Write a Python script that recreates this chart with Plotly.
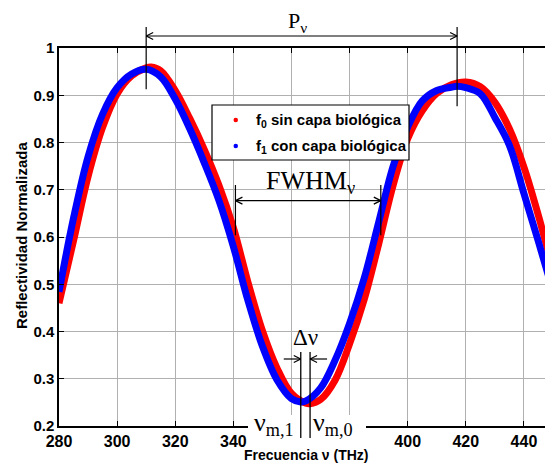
import plotly.graph_objects as go

# ---------------- data ----------------
freq_f0 = [280, 285, 290, 295, 300, 305, 310, 311.7, 315, 320, 325, 330, 335, 340, 345, 350,
           355, 360, 365, 366.4, 370, 375, 380, 385, 390, 395, 400, 405, 410, 415, 420, 425,
           430, 435, 440, 445, 450]
refl_f0 = [0.460, 0.592, 0.728, 0.832, 0.903, 0.941, 0.958, 0.960, 0.952, 0.910, 0.851, 0.785,
           0.710, 0.620, 0.505, 0.402, 0.323, 0.269, 0.248, 0.247, 0.256, 0.297, 0.374, 0.467,
           0.585, 0.710, 0.808, 0.867, 0.904, 0.922, 0.928, 0.918, 0.885, 0.829, 0.748, 0.645,
           0.530]

freq_f1 = [280, 285, 290, 295, 300, 305, 310, 315, 320, 325, 330, 335, 340, 345, 350, 355,
           360, 363.2, 365, 370, 375, 380, 385, 390, 395, 400, 405, 410, 415, 417, 420, 425,
           430, 435, 440, 445, 450]
refl_f1 = [0.484, 0.640, 0.770, 0.860, 0.916, 0.945, 0.955, 0.939, 0.892, 0.829, 0.757, 0.678,
           0.580, 0.466, 0.369, 0.298, 0.258, 0.251, 0.253, 0.280, 0.339, 0.417, 0.512, 0.631,
           0.750, 0.833, 0.888, 0.910, 0.917, 0.919, 0.916, 0.903, 0.853, 0.794, 0.692, 0.590,
           0.485]

x_ticks = [280, 300, 320, 340, 360, 380, 400, 420, 440]
x_tick_text = ["280", "300", "320", "340", "", "", "400", "420", "440"]  # 360/380 hidden in the reference
y_ticks = [0.2, 0.3, 0.4, 0.5, 0.6, 0.7, 0.8, 0.9, 1.0]
y_tick_text = ["0.2", "0.3", "0.4", "0.5", "0.6", "0.7", "0.8", "0.9", "1"]

legend_names = ["f<sub>0</sub> sin capa biológica", "f<sub>1</sub> con capa biológica"]
x_title = "Frecuencia ν (THz)"
y_title = "Reflectividad Normalizada"

# ---------------- layout geometry (screen pixels; page body has an 8px offset) ----------------
OFF = 8
SW, SH = 553, 465
PL, PR, PT, PB = 59, 553, 48, 426          # plot area in screen pixels
W, H = SW - OFF, SH - OFF
ML, MT = PL - OFF, PT - OFF
MR, MB = W - (PR - OFF), H - (PB - OFF)
X_RANGE = [280, 450]
Y_RANGE = [0.2, 1.0]
PW, PH = PR - PL, PB - PT

RED = "#ff0000"
BLUE = "#0000ff"
SANS = "Liberation Sans, Arial, sans-serif"
SERIF = "Liberation Serif, Times New Roman, serif"


def xpix(x):
    return PL + (x - X_RANGE[0]) / (X_RANGE[1] - X_RANGE[0]) * PW


def ypix(y):
    return PT + (Y_RANGE[1] - y) / (Y_RANGE[1] - Y_RANGE[0]) * PH


def pxp(p):  # screen pixel -> paper x
    return (p - PL) / PW


def pyp(p):  # screen pixel -> paper y
    return (PB - p) / PH


shapes = []
annotations = []


def seg(x0, y0, x1, y1, color="black", width=1.2):
    shapes.append(dict(type="line", xref="paper", yref="paper",
                       x0=pxp(x0), y0=pyp(y0), x1=pxp(x1), y1=pyp(y1),
                       line=dict(color=color, width=width), layer="above"))


def head(xt, yt, direction, size=7):
    # open chevron arrow head, tip at (xt, yt); direction +1 points right, -1 left
    seg(xt, yt, xt - direction * size, yt - size * 0.5)
    seg(xt, yt, xt - direction * size, yt + size * 0.5)


def text(x, y, s, size, family=SERIF, xanchor="center", yanchor="middle", color="black"):
    annotations.append(dict(xref="paper", yref="paper", x=pxp(x), y=pyp(y), text=s,
                            showarrow=False, xanchor=xanchor, yanchor=yanchor,
                            font=dict(family=family, size=size, color=color)))


def argmax_in(xs, ys, lo, hi):
    best = None
    for xv, yv in zip(xs, ys):
        if lo <= xv <= hi and (best is None or yv > best[1]):
            best = (xv, yv)
    return best


def argmin_in(xs, ys):
    i = min(range(len(ys)), key=lambda k: ys[k])
    return xs[i], ys[i]


def crossings(xs, ys, level, lo, hi):
    out = []
    for i in range(len(xs) - 1):
        if xs[i] < lo or xs[i + 1] > hi:
            continue
        a, b = ys[i] - level, ys[i + 1] - level
        if a == 0:
            out.append(xs[i])
        elif a * b < 0:
            out.append(xs[i] + (xs[i + 1] - xs[i]) * a / (a - b))
    return out


# ---------------- traces ----------------
fig = go.Figure()
fig.add_trace(go.Scatter(x=freq_f0, y=refl_f0, mode="lines",
                         line=dict(color=RED, width=7, shape="spline", smoothing=1.0),
                         showlegend=False, hoverinfo="skip"))
fig.add_trace(go.Scatter(x=freq_f1, y=refl_f1, mode="lines",
                         line=dict(color=BLUE, width=7, shape="spline", smoothing=1.0),
                         showlegend=False, hoverinfo="skip"))

# ---------------- P_nu annotation (between blue peaks) ----------------
p1 = argmax_in(freq_f1, refl_f1, 280, 360)
p2 = argmax_in(freq_f1, refl_f1, 380, 450)
ya = 36
xl, xr = xpix(p1[0]), xpix(p2[0])
seg(xl, 27, xl, ypix(p1[1]) + 20)
seg(xr, 27, xr, ypix(p2[1]) + 20)
seg(xl, ya, xr, ya)
head(xl, ya, -1)
head(xr, ya, +1)
text((xl + xr) / 2 - 4, 22, "P<sub>ν</sub>", 22)

# ---------------- FWHM annotation (red curve, half level) ----------------
lvl = (max(refl_f0) + min(refl_f0)) / 2
cr = crossings(freq_f0, refl_f0, lvl, 325, 405)
fl, fr = xpix(cr[0]), xpix(cr[1])
yf = ypix(0.677)
seg(fl, ypix(0.71), fl, ypix(lvl))
seg(fr, ypix(0.71), fr, ypix(lvl))
seg(fl, yf, fr, yf)
head(fl, yf, -1)
head(fr, yf, +1)
text((fl + fr) / 2 + 2, 182, "FWHM<sub>ν</sub>", 26)

# ---------------- white patch over bottom axis (as in reference) ----------------
shapes.append(dict(type="rect", xref="paper", yref="paper", x0=pxp(248), x1=pxp(366),
                   y0=pyp(446), y1=pyp(415), fillcolor="white", line=dict(width=0), layer="above"))

# ---------------- Delta nu annotation ----------------
m1 = argmin_in(freq_f1, refl_f1)
m0 = argmin_in(freq_f0, refl_f0)
v1, v0 = xpix(m1[0]), xpix(m0[0])
seg(v1, 352, v1, 438, width=1.3)
seg(v0, 352, v0, 438, width=1.3)
yd = 359
seg(v1 - 17, yd, v1, yd)
head(v1, yd, +1)
seg(v0, yd, v0 + 17, yd)
head(v0, yd, -1)
text((v1 + v0) / 2, 337, "Δν", 23)
text(v1 - 5, 424, "ν<sub>m,1</sub>", 26, xanchor="right")
text(v0 + 1, 424, "ν<sub>m,0</sub>", 26, xanchor="left")

# ---------------- manual legend ----------------
shapes.append(dict(type="rect", xref="paper", yref="paper", x0=pxp(212), x1=pxp(409),
                   y0=pyp(160), y1=pyp(105), fillcolor="white",
                   line=dict(color="black", width=1.2), layer="above"))
for i, (nm, col) in enumerate(zip(legend_names, [RED, BLUE])):
    yy = 120 + i * 26
    shapes.append(dict(type="circle", xref="paper", yref="paper", x0=pxp(233.5), x1=pxp(238),
                       y0=pyp(yy + 2.2), y1=pyp(yy - 2.2), fillcolor=col, line=dict(width=0),
                       layer="above"))
    text(254, yy, "<b>" + nm.replace("<sub>", "<sub><b>").replace("</sub>", "</b></sub>") + "</b>", 15,
         family=SANS, xanchor="left")

# ---------------- axis titles ----------------
text(306, 455, "<b>" + x_title + "</b>", 14, family=SANS)
annotations.append(dict(xref="paper", yref="paper", x=pxp(21), y=pyp(236), text="<b>" + y_title + "</b>",
                        textangle=-90, showarrow=False, xanchor="center", yanchor="middle",
                        font=dict(family=SANS, size=15, color="black")))

axis_common = dict(showline=True, linecolor="black", linewidth=1.5, mirror="ticks", ticks="inside",
                   ticklen=5, tickcolor="black", showgrid=True, gridcolor="#b0b0b0", gridwidth=1,
                   zeroline=False)

fig.update_layout(
    width=W, height=H, margin=dict(l=ML, r=MR, t=MT, b=MB, pad=0, autoexpand=False),
    paper_bgcolor="white", plot_bgcolor="white", showlegend=False,
    xaxis=dict(range=X_RANGE, tickvals=x_ticks, ticktext=x_tick_text, automargin=False,
               tickfont=dict(family=SANS, size=16, color="black", weight="bold"), **axis_common),
    yaxis=dict(range=Y_RANGE, tickvals=y_ticks, ticktext=y_tick_text, automargin=False,
               tickfont=dict(family=SANS, size=15, color="black", weight="bold"), **axis_common),
    shapes=shapes, annotations=annotations,
)

fig.write_html("out.html")
